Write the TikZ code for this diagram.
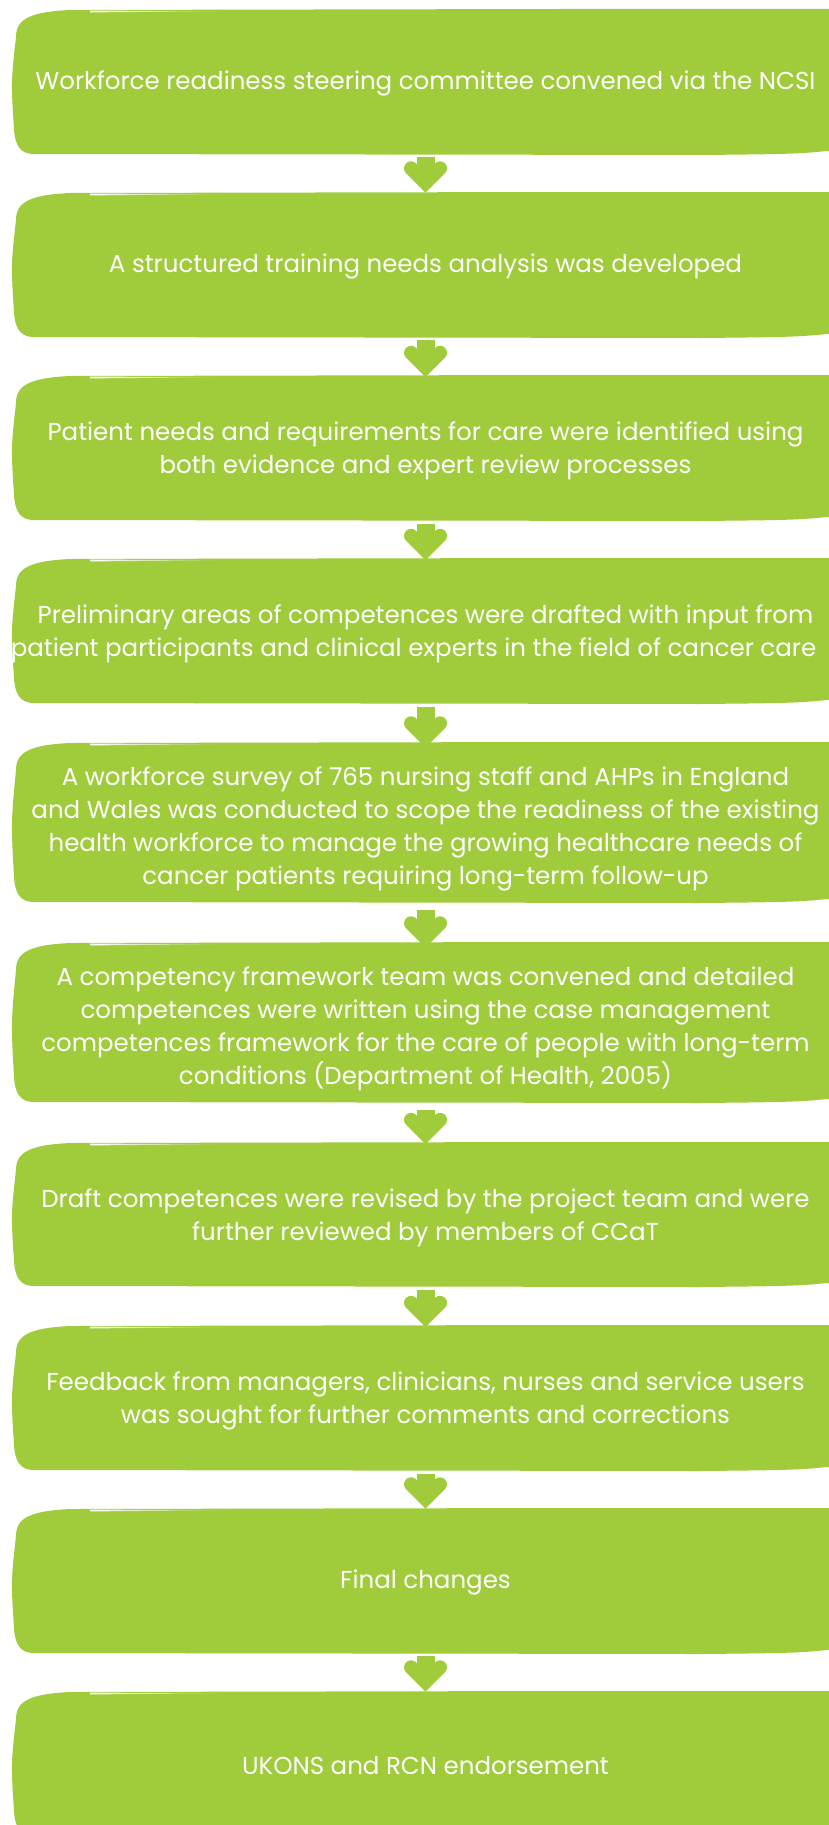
\documentclass[tikz,border=0pt]{standalone}
\usepackage{fontspec}
\usetikzlibrary{calc}
\newfontfamily\stepfont{Poppins}
\definecolor{boxgreen}{RGB}{160,203,59}

\tikzset{
  stepbox/.style={draw=none, inner sep=0pt, minimum width=827pt, align=center,
    text=white, font=\stepfont\fontsize{24.5}{33}\selectfont},
  arrowshaft/.style={draw=boxgreen, line width=18pt, line cap=butt},
  arrowhead/.style={draw=boxgreen, line width=14pt, line cap=round, line join=miter},
}

% brush-stroke box: [text shift], name, top, bottom, text
\newcommand\brushbox[5][-3pt]{%
  \fill[boxgreen] (16,#3+28) .. controls (16,#3+10) and (30,#3+3) .. (70,#3+1)
    -- (560,#3) -- (845,#3) -- (845,#4-6) .. controls (800,#4-1) .. (700,#4)
    -- (32,#4-1) .. controls (20,#4-2) and (15,#4-10) .. (14,#4-26)
    .. controls (11,{(#3+#4)/2}) .. (16,#3+28) -- cycle;
  \shade[left color=white, right color=boxgreen]
    (90,#3+1.6) -- (235,#3+2.2) -- (90,#3+3.4) -- cycle;
  \node[stepbox, minimum height=\the\numexpr#4-#3\relax pt, yshift=#1]
    (#2) at (425.5,{(#3+#4)/2}) {#5};
}

% arrow from the bottom of one box to the top of the next
\newcommand\flowarrow[2]{%
  \draw[arrowshaft] (#1.south) -- ($(#2.north)+(0,-12)$);
  \draw[arrowhead] ($(#2.north)+(-14.5,-25)$) -- ($(#2.north)+(0,-10.5)$)
    -- ($(#2.north)+(14.5,-25)$);
}

\begin{document}
\begin{tikzpicture}[x=1pt, y=-1pt]
  \useasboundingbox (0,0) rectangle (829,1825);
  \clip (0,0) rectangle (829,1825);
  \fill[white] (0,0) rectangle (829,1825);

  \brushbox[-1.5pt]{b1}{9}{155}{Workforce readiness steering committee convened via the NCSI}
  \brushbox[-1.5pt]{b2}{192}{338}{A structured training needs analysis was developed}
  \brushbox{b3}{375}{521}{Patient needs and requirements for care were identified using\\both evidence and expert review processes}
  \brushbox{b4}{558}{704}{Preliminary areas of competences were drafted with input from\\patient participants and clinical experts in the field of cancer care\hspace*{24pt}}
  \brushbox[-6.5pt]{b5}{742}{903}{A workforce survey of 765 nursing staff and AHPs in England\\and Wales was conducted to scope the readiness of the existing\\health workforce to manage the growing healthcare needs of\\cancer patients requiring long-term follow-up}
  \brushbox[-6.5pt]{b6}{942}{1103}{A competency framework team was convened and detailed\\competences were written using the case management\\competences framework for the care of people with long-term\\conditions (Department of Health, 2005)}
  \brushbox{b7}{1142}{1287}{Draft competences were revised by the project team and were\\further reviewed by members of CCaT}
  \brushbox{b8}{1325}{1471}{Feedback from managers, clinicians, nurses and service users\\was sought for further comments and corrections}
  \brushbox[-1.5pt]{b9}{1508}{1654}{Final changes}
  \brushbox[-1.5pt]{b10}{1691}{1837}{UKONS and RCN endorsement}

  \flowarrow{b1}{b2}
  \flowarrow{b2}{b3}
  \flowarrow{b3}{b4}
  \flowarrow{b4}{b5}
  \flowarrow{b5}{b6}
  \flowarrow{b6}{b7}
  \flowarrow{b7}{b8}
  \flowarrow{b8}{b9}
  \flowarrow{b9}{b10}
\end{tikzpicture}
\end{document}
